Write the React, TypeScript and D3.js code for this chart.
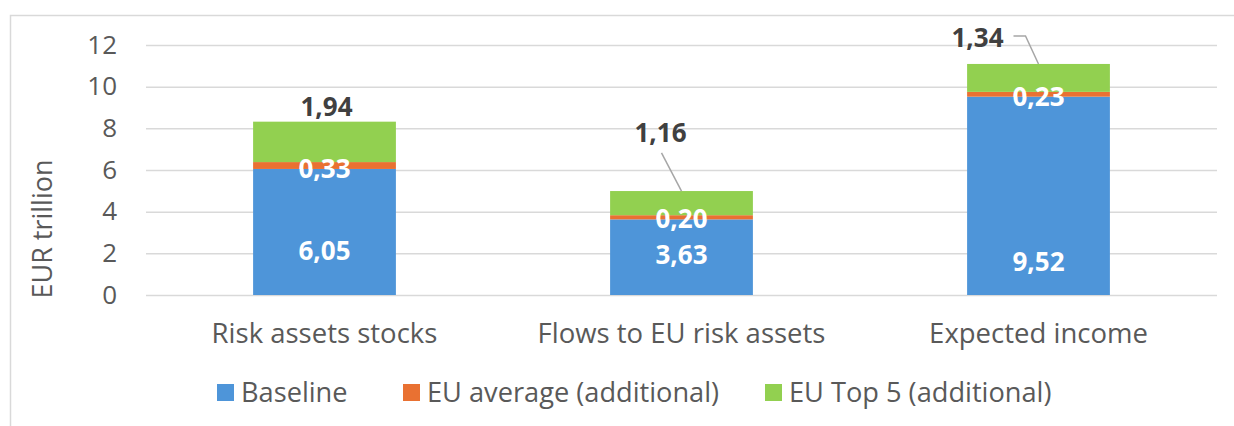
import React, { useEffect, useRef } from 'react';
import * as d3 from 'd3';

const categories = ['Risk assets stocks', 'Flows to EU risk assets', 'Expected income'];
const seriesNames = ['Baseline', 'EU average (additional)', 'EU Top 5 (additional)'];
const baseline = [6.05, 3.63, 9.52];
const euAverage = [0.33, 0.2, 0.23];
const euTop5 = [1.94, 1.16, 1.34];
const yTicks = [0, 2, 4, 6, 8, 10, 12];

const colors = ['#4E95D9', '#E97132', '#92D050'];
const font = "'Open Sans', 'Liberation Sans', sans-serif";

function StackedChart() {
  const ref = useRef<SVGSVGElement>(null);

  useEffect(() => {
    const svg = d3.select(ref.current);
    svg.selectAll('*').remove();

    const left = 146;
    const right = 1217;
    const top = 45;
    const bottom = 295;

    // chart area frame (cut off at right/bottom like the source)
    svg.append('rect')
      .attr('x', 10.5).attr('y', 15.5)
      .attr('width', 1400).attr('height', 600)
      .attr('fill', '#fff').attr('stroke', '#D9D9D9').attr('stroke-width', 1.5);

    const x = d3.scaleBand<string>()
      .domain(categories)
      .range([left, right])
      .paddingInner(0.6)
      .paddingOuter(0.3);

    const y = d3.scaleLinear().domain([0, 12]).range([bottom, top]);

    const yAxis = svg.append('g')
      .attr('transform', `translate(${left},0)`)
      .call(d3.axisLeft(y).tickValues(yTicks).tickSize(-(right - left)).tickPadding(29).tickFormat(d3.format('d')));
    yAxis.select('.domain').remove();
    yAxis.selectAll('.tick line').attr('stroke', '#D9D9D9').attr('stroke-width', 1.5);
    yAxis.selectAll('.tick text')
      .attr('fill', '#595959').attr('font-size', 26).attr('font-family', font);

    svg.append('text')
      .attr('transform', `translate(52,229) rotate(-90)`)
      .attr('text-anchor', 'middle')
      .attr('fill', '#595959').attr('font-size', 27).attr('font-family', font)
      .text('EUR trillion');

    const rows = categories.map((c, i) => ({ cat: c, base: baseline[i], avg: euAverage[i], top5: euTop5[i] }));
    const stack = d3.stack<any>().keys(['base', 'avg', 'top5']);
    const stacked = stack(rows);

    svg.append('g').selectAll('g')
      .data(stacked)
      .enter().append('g')
      .attr('fill', (_d, i) => colors[i])
      .selectAll('rect')
      .data((d) => d)
      .enter().append('rect')
      .attr('x', (d) => x(d.data.cat)!)
      .attr('width', x.bandwidth())
      .attr('y', (d) => y(d[1]))
      .attr('height', (d) => y(d[0]) - y(d[1]));

    const fmt = (v: number) => d3.format('.2f')(v).replace('.', ',');
    const cx = (c: string) => x(c)! + x.bandwidth() / 2;

    // baseline labels (white, inside bar)
    const baseLabelAt = [2.13, 1.92, 1.6];
    categories.forEach((c, i) => {
      svg.append('text')
        .attr('x', cx(c)).attr('y', y(baseLabelAt[i]))
        .attr('dy', '0.35em').attr('text-anchor', 'middle')
        .attr('fill', '#fff').attr('font-weight', 700).attr('font-size', 26).attr('font-family', font)
        .text(fmt(baseline[i]));
      svg.append('text')
        .attr('x', cx(c)).attr('y', y(baseline[i]))
        .attr('dy', '0.35em').attr('text-anchor', 'middle')
        .attr('fill', '#fff').attr('font-weight', 700).attr('font-size', 26).attr('font-family', font)
        .text(fmt(euAverage[i]));
    });

    // top 5 labels, some moved off with leader lines
    const topLabelAt = [9.02, 7.78, 12.34];
    const topLabelDx = [2, -21, -61];
    categories.forEach((c, i) => {
      const total = baseline[i] + euAverage[i] + euTop5[i];
      const lx = cx(c) + topLabelDx[i];
      const ly = y(topLabelAt[i]);
      if (i === 1) {
        svg.append('path')
          .attr('d', `M${lx + 1},${ly + 20} L${cx(c)},${y(total)}`)
          .attr('fill', 'none').attr('stroke', '#A6A6A6').attr('stroke-width', 1.5);
      }
      if (i === 2) {
        svg.append('path')
          .attr('d', `M${lx + 36},${ly - 2} L${lx + 48},${ly - 2} L${cx(c)},${y(total)}`)
          .attr('fill', 'none').attr('stroke', '#A6A6A6').attr('stroke-width', 1.5);
      }
      svg.append('text')
        .attr('x', lx).attr('y', ly)
        .attr('dy', '0.35em').attr('text-anchor', 'middle')
        .attr('fill', '#404040').attr('font-weight', 700).attr('font-size', 26).attr('font-family', font)
        .text(fmt(euTop5[i]));
    });

    // category labels
    svg.append('g').selectAll('text')
      .data(categories)
      .enter().append('text')
      .attr('x', (d) => cx(d)).attr('y', 333)
      .attr('dy', '0.35em').attr('text-anchor', 'middle')
      .attr('fill', '#595959').attr('font-size', 27.5).attr('font-family', font)
      .text((d) => d);

    // legend
    const legendX = [217, 403, 765];
    const legend = svg.append('g');
    seriesNames.forEach((name, i) => {
      legend.append('rect')
        .attr('x', legendX[i]).attr('y', 384)
        .attr('width', 17).attr('height', 17)
        .attr('fill', colors[i]);
      legend.append('text')
        .attr('x', legendX[i] + 24).attr('y', 392)
        .attr('dy', '0.35em')
        .attr('fill', '#595959').attr('font-size', 27.2).attr('font-family', font)
        .text(name);
    });
  }, []);

  return <svg ref={ref} width={1234} height={426} style={{ position: 'absolute', left: 0, top: 0, display: 'block', background: '#fff' }} />;
}

export default function App() {
  return <StackedChart />;
}
